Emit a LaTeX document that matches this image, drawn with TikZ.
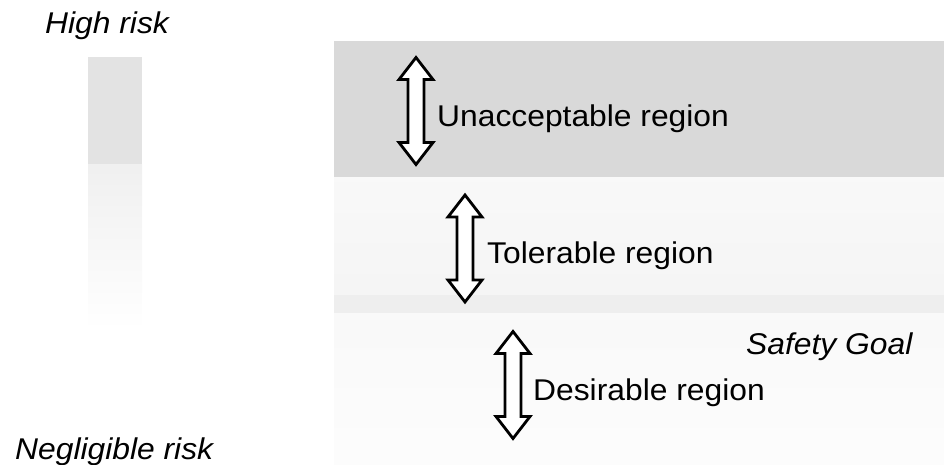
\documentclass[tikz,border=0pt]{standalone}
\usepackage{fontspec}
\setmainfont{Liberation Sans}[FakeStretch=1.06]
\tikzset{
  label/.style={anchor=base west, inner sep=0pt, font=\fontsize{30}{33}\selectfont},
  riskend/.style={label, font=\fontsize{30}{33}\selectfont\itshape},
  dblarrow/.pic={
    \path[draw=black, fill=white, line width=2.8pt, line join=miter]
      (0,-53.5) -- (17,-31.5) -- (8,-31.5) -- (8,31.5) -- (17,31.5) -- (0,53.5)
      -- (-17,31.5) -- (-8,31.5) -- (-8,-31.5) -- (-17,-31.5) -- cycle;
  }
}
\begin{document}
\begin{tikzpicture}[x=1pt, y=-1pt]
  \useasboundingbox (0,0) rectangle (944,465);

  % risk scale bar on the left: dark at the top, fading out downwards
  \fill[gray!22] (88,57) rectangle (142,165);
  \shade[top color=gray!12, bottom color=white] (88,165) rectangle (142,330);

  % the three regions
  \fill[gray!30] (334,41) rectangle (944,178);
  \shade[top color=gray!5, bottom color=gray!8] (334,178) rectangle (944,295);
  \fill[gray!13] (334,295) rectangle (944,313);
  \shade[top color=gray!5, bottom color=gray!2] (334,313) rectangle (944,465);

  % scale ends
  \node[riskend] (high) at (45,34) {High risk};
  \node[riskend] (low) at (15,459) {Negligible risk};

  % region extents
  \pic (a1) at (416,111) {dblarrow};
  \pic (a2) at (465,248.5) {dblarrow};
  \pic (a3) at (513,385) {dblarrow};

  % region names
  \node[label] (unacc) at (437,127) {Unacceptable region};
  \node[label] (toler) at (487,263) {Tolerable region};
  \node[label] (desir) at (533,400) {Desirable region};
  \node[riskend] (goal) at (746,354) {Safety Goal};
\end{tikzpicture}
\end{document}
